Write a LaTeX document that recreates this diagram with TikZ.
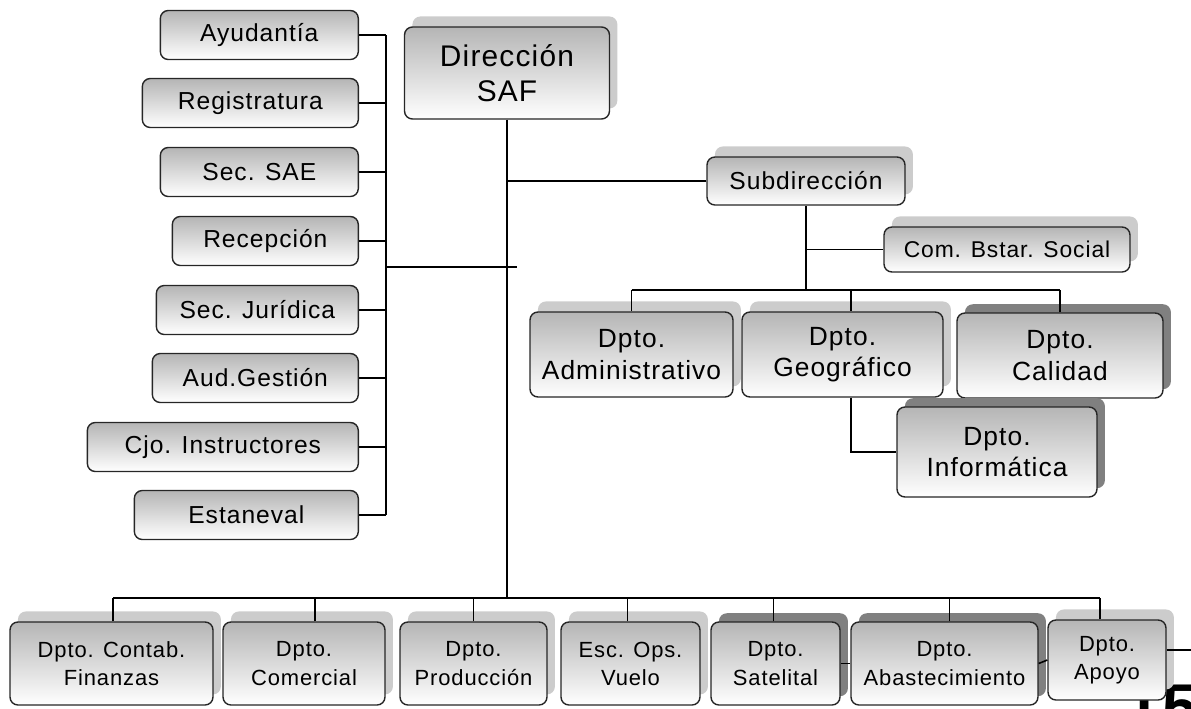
\documentclass[tikz,border=0pt]{standalone}
\usepackage{fontspec}
\setmainfont{Liberation Sans}[LetterSpace=4]
\usetikzlibrary{shadows}
\usetikzlibrary{calc}

\begin{document}
\begin{tikzpicture}[x=0.02cm, y=-0.02cm,
    orgbox/.style={rectangle, rounded corners=4.5pt, draw=black!85, line width=0.8pt, top color=gray!58, bottom color=white, align=center, inner sep=0pt},
    sidebox/.style={orgbox, anchor=east, minimum height=0.98cm, font=\fontsize{14}{17}\selectfont},
    unitbox/.style={orgbox, font=\fontsize{15}{18}\selectfont},
    deptbox/.style={orgbox, minimum height=1.66cm, font=\fontsize{12.5}{16}\selectfont},
    softshadow/.style={general shadow={fill=gray!40, shadow xshift=4.5pt, shadow yshift=6pt}},
    hardshadow/.style={general shadow={fill=gray, shadow xshift=4.5pt, shadow yshift=5pt}},
    link/.style={line width=0.9pt}
]
    \useasboundingbox (0,0) rectangle (1191,708);
    % Page number (behind the chart)
    \node at (1125,728) [anchor=base west, inner sep=0pt, font=\fontsize{36}{36}\selectfont\bfseries] (pagenum) {15};

    % Staff column
    % - [Boxes, right aligned]
    \node at (359,35) [sidebox, minimum width=3.96cm] (ayud) {Ayudantía};
    \node at (359,103) [sidebox, minimum width=4.32cm] (regis) {Registratura};
    \node at (359,172) [sidebox, minimum width=3.96cm] (secsae) {Sec. SAE};
    \node at (359,241) [sidebox, minimum width=3.72cm] (recep) {Recepción};
    \node at (359,310) [sidebox, minimum width=4.04cm] (secjur) {Sec. Jurídica};
    \node at (359,378) [sidebox, minimum width=4.12cm] (audges) {Aud.Gestión};
    \node at (359,447) [sidebox, minimum width=5.42cm] (cjoins) {Cjo. Instructores};
    \node at (359,515) [sidebox, minimum width=4.48cm] (estan) {Estaneval};

    % Head and sub-direction
    \node at (507,73) [unitbox, softshadow, minimum width=4.1cm, minimum height=1.84cm, font=\fontsize{17}{20}\selectfont] (dir) {Dirección\\SAF};
    \node at (806,181) [unitbox, softshadow, minimum width=3.96cm, minimum height=0.96cm, font=\fontsize{14}{17}\selectfont] (subdir) {Subdirección};
    \node at (1007,249.5) [unitbox, softshadow, minimum width=4.92cm, minimum height=0.9cm, font=\fontsize{13}{16}\selectfont] (combs) {Com. Bstar. Social};

    % - [Departments under Subdirección]
    \node at (631.5,354.5) [unitbox, softshadow, minimum width=4.06cm, minimum height=1.7cm] (admin) {Dpto.\\Administrativo};
    \node at (842.5,354.5) [unitbox, softshadow, minimum width=4.02cm, minimum height=1.7cm] (geo) {Dpto.\\Geográfico};
    \node at (1060,355.5) [unitbox, hardshadow, minimum width=4.12cm, minimum height=1.7cm] (calid) {Dpto.\\Calidad};
    \node at (997,452) [unitbox, hardshadow, minimum width=4cm, minimum height=1.8cm] (inform) {Dpto.\\Informática};

    % Bottom row
    \node at (111.5,663.5) [deptbox, softshadow, minimum width=4.06cm] (contab) {Dpto. Contab.\\Finanzas};
    \node at (304,663.5) [deptbox, softshadow, minimum width=3.24cm] (comer) {Dpto.\\Comercial};
    \node at (473.5,663.5) [deptbox, softshadow, minimum width=2.94cm] (produ) {Dpto.\\Producción};
    \node at (630.5,663.5) [deptbox, softshadow, minimum width=2.78cm] (escops) {Esc. Ops.\\Vuelo};
    \node at (775.5,663.5) [deptbox, hardshadow, minimum width=2.58cm] (satel) {Dpto.\\Satelital};
    \node at (944.5,663.5) [deptbox, hardshadow, minimum width=3.74cm] (abast) {Dpto.\\Abastecimiento};
    \node at (1107,660) [deptbox, softshadow, minimum width=2.36cm, minimum height=1.6cm] (apoyo) {Dpto.\\Apoyo};

    % Connectors
    % - [Staff spine]
    \coordinate (lspine) at (386,267);
    \coordinate (ljoin) at (517,267);
    \foreach \n in {ayud,regis,secsae,recep,secjur,audges,cjoins,estan}
        \draw [link] (\n.east) -- (\n.east -| lspine);
    \draw [link] (ayud.east -| lspine) -- (estan.east -| lspine);
    \draw [link] (lspine) -- (ljoin);
    % - [Main line]
    \coordinate (mainbus) at (506,598);
    \draw [link] (dir.south) -- (dir.south |- mainbus);
    \draw [link] (subdir.west) -- (subdir.west -| dir.south);
    % -- Subdirección branch
    \coordinate (subbus) at (809,290);
    \draw [link] (subdir.south) -- (subdir.south |- subbus);
    \draw [link] (combs.west) -- (combs.west -| subdir.south);
    \draw [link] (admin.north |- subbus) -- (calid.north |- subbus);
    \foreach \n in {admin,calid}
        \draw [link] (\n.north) -- (\n.north |- subbus);
    \coordinate (geodrop) at (851,290);
    \draw [link] (geodrop) -- (geodrop |- geo.north);
    \draw [link] (geodrop |- geo.south) |- (inform.west);
    % -- Bottom bus
    \coordinate (busleft) at (113,598);
    \coordinate (busright) at (1100,598);
    \draw [link] (busleft) -- (busright);
    \foreach \n/\dx in {contab/1.5, comer/11, produ/0, escops/-3, satel/-2, abast/5, apoyo/-7}
        \draw [link] ([xshift=\dx*0.02cm]\n.north) -- ([xshift=\dx*0.02cm]\n.north |- mainbus);
    % -- Side links of the last boxes
    \coordinate (rightedge) at (1191,650);
    \draw [link] (satel.east) -- (abast.west);
    \draw [link] (abast.east) -- (apoyo.west);
    \draw [link] (apoyo.east |- rightedge) -- (rightedge);
\end{tikzpicture}
\end{document}
